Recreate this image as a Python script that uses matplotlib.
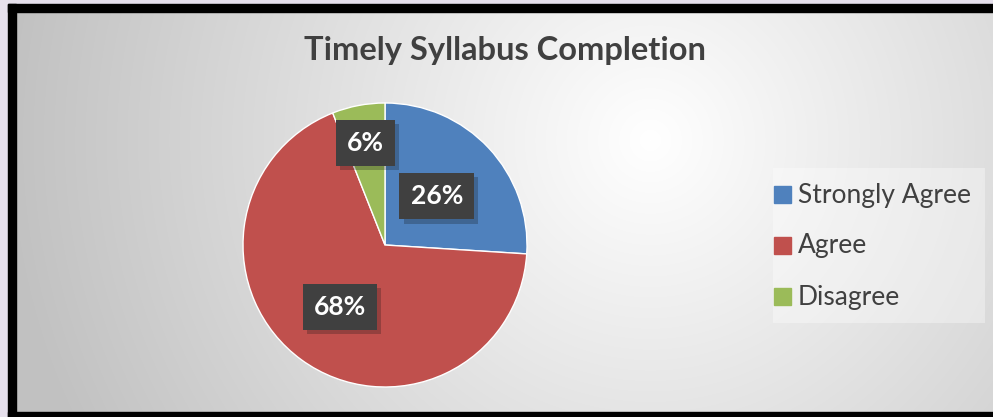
import numpy as np
import matplotlib.pyplot as plt
import matplotlib.patheffects as pe
from matplotlib.patches import Rectangle

categories = ["Strongly Agree", "Agree", "Disagree"]
shares = [26, 68, 6]
colors = ["#4F81BD", "#C0504D", "#9BBB59"]
label_dist = [0.50, 0.54, 0.73]

W, H = 993, 417
fig = plt.figure(figsize=(W / 100, H / 100), dpi=100)
plt.rcParams['font.family'] = ['Lato', 'DejaVu Sans']

# background: radial gradient
bg = fig.add_axes([0, 0, 1, 1])
yy, xx = np.mgrid[0:H, 0:W]
d = np.sqrt((xx - 650) ** 2 + (yy - 140) ** 2)
v = 1.0 - 0.24 * np.clip(d / 640, 0, 1)
bg.imshow(np.dstack([v, v, v]), extent=[0, W, H, 0], aspect='auto')
bg.set_xlim(0, W)
bg.set_ylim(H, 0)
bg.axis('off')

# lavender margin + black frame
bg.add_patch(Rectangle((0, 0), 8, H, color='#e6e0ec', zorder=3))
bg.add_patch(Rectangle((0, 0), W, 4, color='#e6e0ec', zorder=3))
bg.add_patch(Rectangle((8, 4), 8, H, color='black', zorder=4))
bg.add_patch(Rectangle((8, 4), W, 8, color='black', zorder=4))
bg.add_patch(Rectangle((8, 412), W, 6, color='black', zorder=4))

# legend panel
bg.add_patch(Rectangle((773, 168), 212, 155, color='white', alpha=0.35, lw=0, zorder=2))

bg.text(505, 50, "Timely Syllabus Completion", ha='center', va='center',
        fontsize=23.5, fontweight='bold', color='#404040')

# pie
cx, cy, r = 385, 245, 142
ax = fig.add_axes([(cx - r) / W, (H - cy - r) / H, 2 * r / W, 2 * r / H])
wedges, _ = ax.pie(shares, colors=colors, startangle=90, counterclock=False,
                   radius=1, wedgeprops=dict(linewidth=1, edgecolor='white'))
ax.set_xlim(-1, 1)
ax.set_ylim(-1, 1)
ax.axis('off')

for w, s, dist in zip(wedges, shares, label_dist):
    ang = np.deg2rad((w.theta1 + w.theta2) / 2)
    x, y = dist * np.cos(ang), dist * np.sin(ang)
    t = ax.text(x, y, f"{s}%", ha='center', va='center', fontsize=19,
                fontweight='bold', color='white',
                bbox=dict(boxstyle='square,pad=0.42', fc='#404040', lw=0))
    t.get_bbox_patch().set_path_effects(
        [pe.SimplePatchShadow(offset=(3, -3), alpha=0.25), pe.Normal()])

# legend
for i, (c, name) in enumerate(zip(colors, categories)):
    yl = 194 + i * 51
    bg.add_patch(Rectangle((774, yl - 8), 17, 17, color=c, zorder=5))
    bg.text(798, yl + 1, name, ha='left', va='center', fontsize=19,
            color='#404040', zorder=5)

fig.savefig("out.png", dpi=100)
